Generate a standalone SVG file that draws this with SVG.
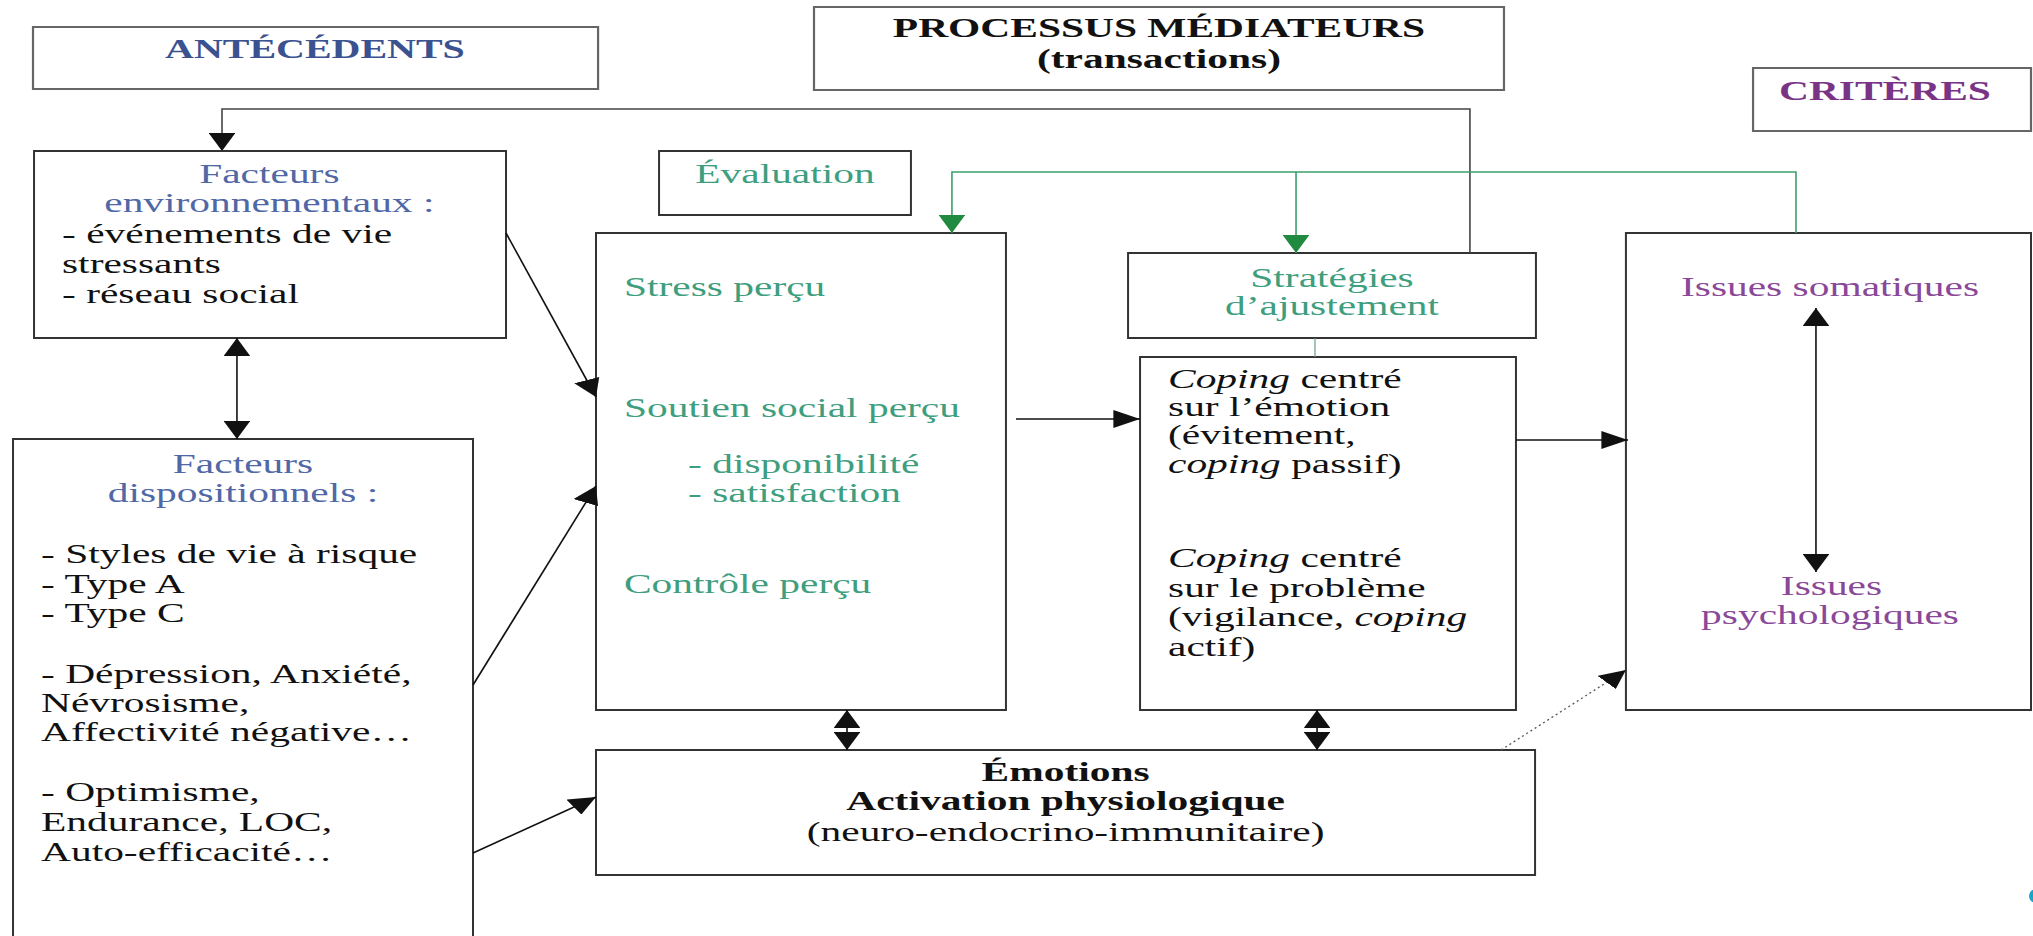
<svg xmlns="http://www.w3.org/2000/svg" width="2033" height="936" viewBox="0 0 2033 936">
<style>
  text { font-family: "Liberation Serif", "Times New Roman", serif; font-size: 28px; fill: #111; }
  .b { font-weight: bold; }
  .mid { text-anchor: middle; }
  .navy { fill: #3b5291; }
  .blue { fill: #5068a6; }
  .teal { fill: #3e9e7e; }
  .purple { fill: #7a3486; }
  .lpurple { fill: #8a4898; }
  .box { fill: #fff; stroke: #333; stroke-width: 2; vector-effect: non-scaling-stroke; }
  .tbox { fill: #fff; stroke: #666; stroke-width: 2.2; vector-effect: non-scaling-stroke; }
  .ln { fill: none; stroke: #111; stroke-width: 1.6; vector-effect: non-scaling-stroke; }
  .gray { fill: none; stroke: #444; stroke-width: 1.6; vector-effect: non-scaling-stroke; }
  .green { fill: none; stroke: #3c9e6c; stroke-width: 1.6; vector-effect: non-scaling-stroke; }
  .thin { fill: none; stroke: #6a9a86; stroke-width: 1.2; vector-effect: non-scaling-stroke; }
  .dot { fill: none; stroke: #555; stroke-width: 1.3; stroke-dasharray: 2 3; vector-effect: non-scaling-stroke; }
  .it { font-style: italic; }
</style>
<defs>
  <marker id="ah" markerUnits="userSpaceOnUse" markerWidth="18" markerHeight="18" refX="18" refY="9" orient="auto-start-reverse">
    <path d="M0,0 L18,9 L0,18 Z" fill="#111"/>
  </marker>
  <marker id="ahg" markerUnits="userSpaceOnUse" markerWidth="18" markerHeight="18" refX="18" refY="9" orient="auto">
    <path d="M0,0 L18,9 L0,18 Z" fill="#1f8a40"/>
  </marker>
</defs>
<rect x="0" y="0" width="2033" height="936" fill="#fff"/>
<g transform="scale(1.48 1)">
  <g id="antecedents">
    <rect class="tbox" x="22.3" y="27" width="381.8" height="62"/>
    <text class="b mid navy" x="212.8" y="58" style="font-size:27px">ANTÉCÉDENTS</text>
  </g>
  <g id="processus">
    <rect class="tbox" x="550" y="7" width="466.2" height="83"/>
    <text class="b mid" x="783.1" y="37">PROCESSUS MÉDIATEURS</text>
    <text class="b mid" x="783.1" y="68">(transactions)</text>
  </g>
  <g id="criteres">
    <rect class="tbox" x="1184.5" y="68" width="187.8" height="63"/>
    <text class="b mid purple" x="1273.6" y="100">CRITÈRES</text>
  </g>
  <g id="facteurs-env">
    <rect class="box" x="23" y="151" width="318.9" height="187"/>
    <text class="mid blue" x="182" y="183">Facteurs</text>
    <text class="mid blue" x="182" y="212">environnementaux :</text>
    <text x="41.9" y="243">- événements de vie</text>
    <text x="41.9" y="273">stressants</text>
    <text x="41.9" y="303">- réseau social</text>
  </g>
  <g id="facteurs-disp">
    <rect class="box" x="8.8" y="439" width="310.8" height="510"/>
    <text class="mid blue" x="164.2" y="473">Facteurs</text>
    <text class="mid blue" x="164.2" y="502">dispositionnels :</text>
    <text x="27.7" y="563">- Styles de vie à risque</text>
    <text x="27.7" y="593">- Type A</text>
    <text x="27.7" y="622">- Type C</text>
    <text x="27.7" y="683">- Dépression, Anxiété,</text>
    <text x="27.7" y="712">Névrosisme,</text>
    <text x="27.7" y="741">Affectivité négative…</text>
    <text x="27.7" y="801">- Optimisme,</text>
    <text x="27.7" y="831">Endurance, LOC,</text>
    <text x="27.7" y="861">Auto-efficacité…</text>
  </g>
  <g id="evaluation-label">
    <rect class="box" x="445.3" y="151" width="170.2" height="64"/>
    <text class="mid teal" x="530.4" y="183">Évaluation</text>
  </g>
  <g id="evaluation">
    <rect class="box" x="402.7" y="233" width="277" height="477"/>
    <text class="teal" x="421.6" y="296">Stress perçu</text>
    <text class="teal" x="421.6" y="417">Soutien social perçu</text>
    <text class="teal" x="464.9" y="473">- disponibilité</text>
    <text class="teal" x="464.9" y="502">- satisfaction</text>
    <text class="teal" x="421.6" y="593">Contrôle perçu</text>
  </g>
  <g id="strategies">
    <rect class="box" x="762.2" y="253" width="275.6" height="85"/>
    <text class="mid teal" x="900" y="287">Stratégies</text>
    <text class="mid teal" x="900" y="315">d’ajustement</text>
  </g>
  <g id="coping">
    <rect class="box" x="770.3" y="357" width="254" height="353"/>
    <text x="789.2" y="388"><tspan class="it">Coping</tspan> centré</text>
    <text x="789.2" y="416">sur l’émotion</text>
    <text x="789.2" y="444">(évitement,</text>
    <text x="789.2" y="473"><tspan class="it">coping</tspan> passif)</text>
    <text x="789.2" y="567"><tspan class="it">Coping</tspan> centré</text>
    <text x="789.2" y="597">sur le problème</text>
    <text x="789.2" y="626">(vigilance, <tspan class="it">coping</tspan></text>
    <text x="789.2" y="656">actif)</text>
  </g>
  <g id="issues">
    <rect class="box" x="1098.6" y="233" width="273.7" height="477"/>
    <text class="mid lpurple" x="1236.5" y="296">Issues somatiques</text>
    <text class="mid lpurple" x="1237.5" y="595">Issues</text>
    <text class="mid lpurple" x="1236.5" y="624">psychologiques</text>
  </g>
  <g id="emotions">
    <rect class="box" x="402.7" y="750" width="634.5" height="125"/>
    <text class="b mid" x="720" y="781">Émotions</text>
    <text class="b mid" x="720" y="810">Activation physiologique</text>
    <text class="mid" x="720" y="841">(neuro-endocrino-immunitaire)</text>
  </g>
  <g id="connectors">
    <polyline class="gray" points="993.2,253 993.2,109 150,109 150,151" marker-end="url(#ah)"/>
    <path class="green" d="M1213.5,233 V172 H643.2 V233" marker-end="url(#ahg)"/>
    <path class="green" d="M875.7,172 V253" marker-end="url(#ahg)"/>
    <line class="ln" x1="160.1" y1="338" x2="160.1" y2="439" marker-start="url(#ah)" marker-end="url(#ah)"/>
    <line class="ln" x1="341.9" y1="233" x2="402.7" y2="397" marker-end="url(#ah)"/>
    <line class="ln" x1="319.6" y1="685" x2="402.7" y2="486" marker-end="url(#ah)"/>
    <line class="ln" x1="319.6" y1="853" x2="402.7" y2="797" marker-end="url(#ah)"/>
    <line class="ln" x1="686.5" y1="419" x2="770.3" y2="419" marker-end="url(#ah)"/>
    <line class="thin" x1="888.5" y1="338" x2="888.5" y2="357"/>
    <line class="ln" x1="1024.3" y1="440" x2="1100" y2="440" marker-end="url(#ah)"/>
    <line class="ln" x1="572.3" y1="710" x2="572.3" y2="750" marker-start="url(#ah)" marker-end="url(#ah)"/>
    <line class="ln" x1="889.9" y1="710" x2="889.9" y2="750" marker-start="url(#ah)" marker-end="url(#ah)"/>
    <line class="dot" x1="1014.2" y1="750" x2="1098.6" y2="670" marker-end="url(#ah)"/>
    <line class="ln" x1="1227" y1="308" x2="1227" y2="572" marker-start="url(#ah)" marker-end="url(#ah)"/>
  </g>
</g>
<circle cx="2036" cy="896" r="7" fill="#19a4c9"/>
</svg>
